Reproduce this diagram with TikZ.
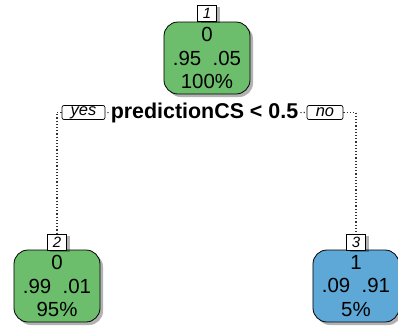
\documentclass[tikz,border=0pt]{standalone}
\usepackage{fontspec}
\setmainfont{Liberation Sans}
\usetikzlibrary{shadows}
\definecolor{leafgreen}{RGB}{108,190,108}
\definecolor{leafblue}{RGB}{94,168,215}
\tikzset{
  treebox/.style={draw, line width=0.8bp, rounded corners=14bp,
    minimum width=86bp, minimum height=72bp, inner sep=0pt, align=center,
    font=\fontsize{20.5}{23.5}\selectfont,
    drop shadow={shadow xshift=3bp,shadow yshift=-3bp,fill=black,opacity=.3}},
  numbox/.style={draw, fill=white, line width=0.7bp, minimum width=19bp,
    minimum height=16bp, inner sep=0pt, font=\fontsize{15}{15}\selectfont\itshape,
    drop shadow={shadow xshift=3bp,shadow yshift=-2bp,fill=black,opacity=.3}},
  branchbox/.style={draw, fill=white, line width=0.7bp, rounded corners=2bp,
    inner sep=0pt, minimum height=14bp, font=\fontsize{16.5}{16.5}\selectfont\itshape},
  branch/.style={line width=1.2bp, dash pattern=on 1.2bp off 2bp, black!80}
}

\begin{document}
\begin{tikzpicture}[x=1bp,y=-1bp]
  \useasboundingbox (0,0) rectangle (398,328);
  % root node and split
  \node[treebox,fill=leafgreen] (n1) at (207,58) {0\\.95\ \ .05\\100\%};
  \node[numbox] (l1) at (207,13) {1};
  \node[font=\fontsize{21.5}{21.5}\selectfont\bfseries,inner sep=2bp] (split) at (204.5,113) {predictionCS < 0.5};
  \node[branchbox,minimum width=43bp] (yes) at (83.5,112.5) {yes};
  \node[branchbox,minimum width=36bp] (no) at (325,112.5) {no};
  % leaves
  \node[treebox,fill=leafgreen] (n2) at (57,286) {0\\.99\ \ .01\\95\%};
  \node[numbox] (l2) at (57,242) {2};
  \node[treebox,fill=leafblue] (n3) at (356,286) {1\\.09\ \ .91\\5\%};
  \node[numbox] (l3) at (356,242) {3};
  % branches
  \draw[branch] (split) -- (yes);
  \draw[branch] (split) -- (no);
  \draw[branch] (yes.west) -| (l2.north);
  \draw[branch] (no.east) -| (l3.north);
\end{tikzpicture}
\end{document}
